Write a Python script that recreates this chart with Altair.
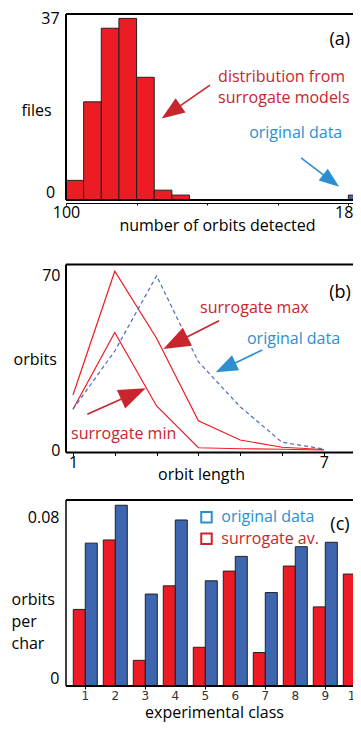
import math
import altair as alt
import pandas as pd

FONT = "Open Sans"
RED = "#ED1C24"
BLUE = "#3D65B0"
RED_TXT = "#C9252C"
BLUE_TXT = "#2B8FD0"
ARROW_PATH = "M0,-1L0.75,1L-0.75,1Z"

# ---------------- data ----------------
# (a) histogram of number of orbits detected
bin_start = [100, 105, 110, 115, 120, 125, 130, 180]
bin_count = [4, 20, 35, 37, 25, 2, 1, 1]
bin_group = ["surrogate"] * 7 + ["original"]

# (b) orbit length distribution
orbit_length = [1, 2, 3, 4, 5, 6, 7]
surrogate_max = [22, 71.5, 44.7, 11.7, 4.0, 1.1, 0.2]
surrogate_min = [16.3, 47, 17.6, 0.9, 0.5, 0.3, 0.0]
original_b = [16.3, 39.6, 69.7, 35.3, 17.3, 3.1, 0.4]

# (c) orbits per char by experimental class
classes = [1, 2, 3, 4, 5, 6, 7, 8, 9, 10]
class_labels = ["1", "2", "3", "4", "5", "6", "7", "8", "9", "10"]
surrogate_av = [0.0364, 0.0694, 0.0122, 0.0476, 0.0184, 0.0546, 0.0159, 0.0570, 0.0376, 0.0532]
original_c = [0.0679, 0.0859, 0.0437, 0.0789, 0.0500, 0.0616, 0.0444, 0.0662, 0.0683, 0.0608]

W = 295
ONE = pd.DataFrame({"k": [0]})

# ---------------- helpers ----------------
def arrows(rows, kx, ky):
    out = []
    for (tx, ty, hx, hy, hl, col) in rows:
        dxp = (hx - tx) * kx
        dyp = -(hy - ty) * ky
        L = math.hypot(dxp, dyp)
        ux, uy = dxp / L, dyp / L
        cx = hx - ux * hl / 2 / kx
        cy = hy + uy * hl / 2 / ky
        sx = hx - ux * hl * 0.8 / kx
        sy = hy + uy * hl * 0.8 / ky
        ang = math.degrees(math.atan2(ux, -uy)) % 360
        out.append(dict(tx=tx, ty=ty, sx=sx, sy=sy, cx=cx, cy=cy,
                        ang=ang, size=hl * hl, col=col))
    return pd.DataFrame(out)


def arrow_layers(df, xs, ys):
    shaft = alt.Chart(df).mark_rule(strokeWidth=1.6).encode(
        x=alt.X("tx:Q", scale=xs), y=alt.Y("ty:Q", scale=ys),
        x2="sx:Q", y2="sy:Q", color=alt.Color("col:N", scale=None))
    head = alt.Chart(df).mark_point(shape=ARROW_PATH, filled=True, opacity=1, strokeWidth=0).encode(
        x=alt.X("cx:Q", scale=xs), y=alt.Y("cy:Q", scale=ys),
        angle=alt.Angle("ang:Q", scale=None), size=alt.Size("size:Q", scale=None),
        color=alt.Color("col:N", scale=None))
    return shaft + head


def texts(df, xs, ys, align="left", size=16):
    return alt.Chart(df).mark_text(font=FONT, fontSize=size, align=align, baseline="middle").encode(
        x=alt.X("x:Q", scale=xs), y=alt.Y("y:Q", scale=ys),
        text="t:N", color=alt.Color("c:N", scale=None))


def frame(xs, ys, xmin, ymin, ymax, left_w=2):
    top = alt.Chart(ONE).mark_rule(color="black", strokeWidth=2).encode(
        y=alt.YDatum(ymax, scale=ys))
    bottom = alt.Chart(ONE).mark_rule(color="black", strokeWidth=2).encode(
        y=alt.YDatum(ymin, scale=ys))
    left = alt.Chart(ONE).mark_rule(color="black", strokeWidth=left_w).encode(
        x=alt.XDatum(xmin, scale=xs), y=alt.YDatum(ymin, scale=ys),
        y2=alt.Y2Datum(ymax))
    return top + bottom + left

# ---------------- panel (a) ----------------
XA0, XA1, YA1 = 100, 100 + W / 3.529, 37.9
da = pd.DataFrame({"start": bin_start, "count": bin_count, "group": bin_group})
da["end"] = da["start"] + 5
da["base"] = 0
xa = alt.Scale(domain=[XA0, XA1], nice=False, zero=False)
ya = alt.Scale(domain=[0, YA1], nice=False)
bars_a = alt.Chart(da).mark_bar(stroke="#231F20", strokeWidth=1, clip=True).encode(
    x=alt.X("start:Q", scale=xa, axis=alt.Axis(
        values=list(range(100, 185, 5)),
        labelExpr="datum.value == 100 || datum.value == 180 ? datum.label : ''",
        title="number of orbits detected", titleX=151, titleY=22, titleBaseline="middle",
        domain=True, domainColor="black", domainWidth=1, offset=3,
        tickSize=2, labelPadding=-1, labelFlush=False)),
    x2="end:Q",
    y=alt.Y("count:Q", scale=ya, axis=alt.Axis(
        values=[0, 37], title="files", titleAngle=0, titleAlign="left", titleBaseline="middle",
        titleX=-45, titleY=96, labelAlign="center", labelPadding=16, tickSize=0, labelFlush=True)),
    y2="base:Q",
    color=alt.Color("group:N", scale=alt.Scale(domain=["surrogate", "original"], range=[RED, BLUE]), legend=None),
)
ta = pd.DataFrame({
    "t": ["distribution from", "surrogate models", "original data"],
    "x": [143.1, 143.1, 151.9],
    "y": [25.0, 20.7, 13.6],
    "c": [RED_TXT, RED_TXT, BLUE_TXT],
})
ta2 = pd.DataFrame({"t": ["(a)"], "x": [177.6], "y": [32.6], "c": ["black"]})
aa = arrows([(140.8, 23.4, 127.1, 16.6, 23, RED_TXT),
             (166.6, 8.6, 177.4, 2.7, 20, BLUE_TXT)], 3.529, 186 / YA1)
panel_a = alt.layer(
    bars_a,
    frame(xa, ya, XA0, 0, YA1),
    texts(ta, xa, ya),
    texts(ta2, xa, ya, align="center", size=18),
    arrow_layers(aa, xa, ya),
).properties(width=W, height=186)

# ---------------- panel (b) ----------------
XB0, XB1, YB0, YB1 = 0.833, 0.833 + W / 41.8, -1, 74.2
db = pd.DataFrame({
    "len": orbit_length * 3,
    "val": surrogate_max + surrogate_min + original_b,
    "s": ["max"] * 7 + ["min"] * 7 + ["orig"] * 7,
})
xb = alt.Scale(domain=[XB0, XB1], nice=False, zero=False)
yb = alt.Scale(domain=[YB0, YB1], nice=False)
xb_axis = alt.Axis(values=[1, 2, 3, 4, 5, 6, 7],
                   labelExpr="datum.value == 1 || datum.value == 7 ? datum.label : ''",
                   title="orbit length", titleX=135, titleY=22, titleBaseline="middle",
                   tickSize=3, labelPadding=-1.5, labelFlush=False)
yb_axis = alt.Axis(values=[0, 70], title="orbits", titleAngle=0, titleAlign="left",
                   titleBaseline="middle", titleX=-53, titleY=95, tickSize=0, labelPadding=6,
                   labelFlush=False)
red_lines = alt.Chart(db[db.s != "orig"]).mark_line(color=RED, strokeWidth=1.2).encode(
    x=alt.X("len:Q", scale=xb, axis=xb_axis),
    y=alt.Y("val:Q", scale=yb, axis=yb_axis),
    detail="s:N")
blue_line = alt.Chart(db[db.s == "orig"]).mark_line(color="#4A6DB8", strokeWidth=1.2, strokeDash=[4, 3]).encode(
    x=alt.X("len:Q", scale=xb), y=alt.Y("val:Q", scale=yb))
tb = pd.DataFrame({
    "t": ["surrogate max", "original data", "surrogate min"],
    "x": [4.04, 5.163, 0.953],
    "y": [56.9, 44.4, 6.3],
    "c": [RED_TXT, BLUE_TXT, RED_TXT],
})
tb2 = pd.DataFrame({"t": ["(b)"], "x": [7.39], "y": [62.7], "c": ["black"]})
ab = arrows([(4.493, 51.7, 3.161, 40.4, 27, RED_TXT),
             (5.529, 40.0, 4.414, 31.1, 22, BLUE_TXT),
             (1.343, 14.3, 2.74, 24.7, 27, RED_TXT)], 41.8, 2.5)
# invisible spacer above the frame, to widen the gap between panels (a) and (b)
spacer_b = alt.Chart(ONE).mark_text(text=".", fontSize=15.5, baseline="bottom", opacity=0).encode(
    x=alt.XDatum(4, scale=xb), y=alt.YDatum(YB1, scale=yb))
panel_b = alt.layer(
    red_lines, blue_line,
    frame(xb, yb, XB0, YB0, YB1),
    texts(tb, xb, yb), texts(tb2, xb, yb, align="center", size=18),
    arrow_layers(ab, xb, yb), spacer_b,
).properties(width=W, height=188)

# ---------------- panel (c) ----------------
XC0, XC1, YC1 = 0.357, 0.357 + W / 30, 0.0884
dc = pd.DataFrame({
    "cls": classes * 2,
    "val": surrogate_av + original_c,
    "s": ["surrogate"] * 10 + ["original"] * 10,
})
dc["x0"] = dc["cls"] + dc["s"].map({"surrogate": -0.4, "original": 0.0})
dc["x1"] = dc["x0"] + 0.4
dc["base"] = 0
xc = alt.Scale(domain=[XC0, XC1], nice=False, zero=False)
yc = alt.Scale(domain=[0, YC1], nice=False)
bars_c = alt.Chart(dc).mark_bar(stroke="#231F20", strokeWidth=1, clip=True).encode(
    x=alt.X("x0:Q", scale=xc, axis=alt.Axis(
        values=classes, labels=False, labelOpacity=0, title="experimental class",
        titleX=148, titleY=26, titleBaseline="middle", tickSize=3)),
    x2="x1:Q",
    y=alt.Y("val:Q", scale=yc, axis=alt.Axis(
        values=[0, 0.08], format=".2f",
        labelExpr="datum.value == 0 ? '0' : datum.label",
        title=["orbits", "per", "char"], titleAngle=0, titleAlign="left", titleBaseline="middle",
        titleX=-55, titleY=99, titleLineHeight=22, tickSize=0, labelPadding=7, labelFlush=True)),
    y2="base:Q",
    color=alt.Color("s:N", scale=alt.Scale(domain=["surrogate", "original"], range=[RED, BLUE]), legend=None),
)
cls_df = pd.DataFrame({"cls": classes, "lab": class_labels, "zero": 0})
class_text = alt.Chart(cls_df).mark_text(
    font="DejaVu Sans", fontSize=12, color="#333333", baseline="middle", dy=10).encode(
    x=alt.X("cls:Q", scale=xc), y=alt.Y("zero:Q", scale=yc), text="lab:N")
leg = pd.DataFrame({"x": [5.04, 5.04], "y": [0.0802, 0.0700], "c": [BLUE_TXT, RED_TXT]})
squares = alt.Chart(leg).mark_point(shape="square", filled=False, size=110, strokeWidth=2, opacity=1).encode(
    x=alt.X("x:Q", scale=xc), y=alt.Y("y:Q", scale=yc),
    color=alt.Color("c:N", scale=None))
tc = pd.DataFrame({
    "t": ["original data", "surrogate av."],
    "x": [5.534, 5.534],
    "y": [0.0802, 0.0700],
    "c": [BLUE_TXT, RED_TXT],
})
tc2 = pd.DataFrame({"t": ["(c)"], "x": [9.49], "y": [0.0767], "c": ["black"]})
panel_c = alt.layer(
    bars_c, frame(xc, yc, XC0, 0, YC1, left_w=1.5), squares, class_text,
    texts(tc, xc, yc), texts(tc2, xc, yc, align="center", size=18),
).properties(width=W, height=186)

chart = alt.vconcat(panel_a, panel_b, panel_c, spacing=16.5).properties(
    padding={"left": 3, "top": 2, "right": -10, "bottom": 3}
).configure_view(strokeWidth=0).configure_axis(
    labelFont=FONT, titleFont=FONT, labelFontSize=16, titleFontSize=16,
    labelColor="black", titleColor="black", grid=False, domain=False,
    tickColor="black", titleFontWeight="normal", labelOverlap=False, labelBound=False,
)

chart.save("out.html", embed_options={"renderer": "svg", "actions": False})
